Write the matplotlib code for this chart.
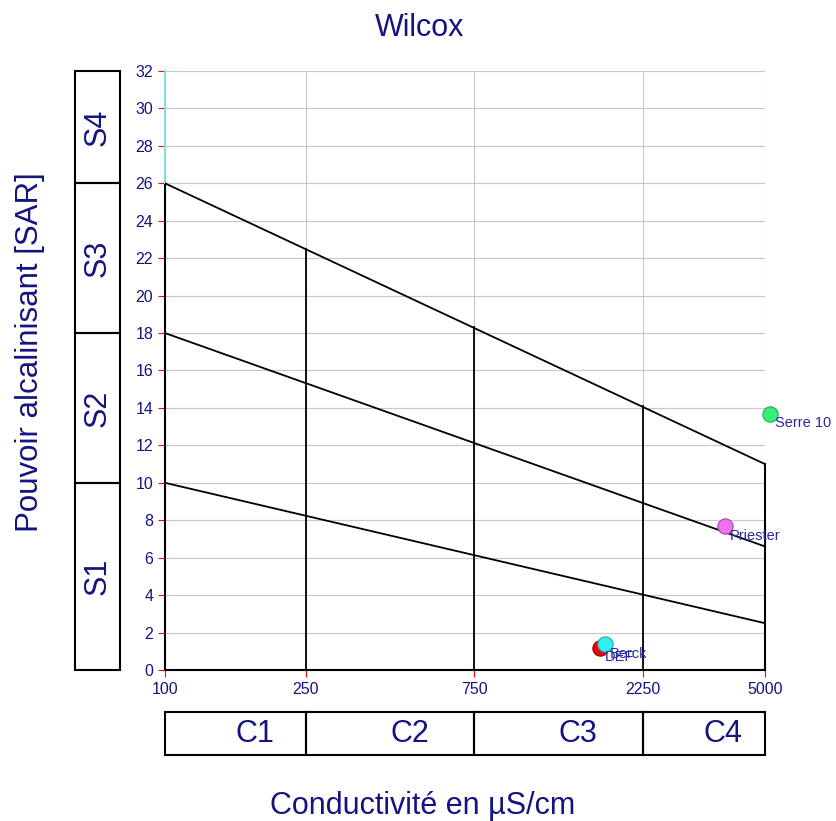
import matplotlib.pyplot as plt
from matplotlib.patches import Rectangle
from matplotlib.ticker import FixedLocator, NullLocator

plt.rcParams['font.family'] = ['Liberation Sans', 'DejaVu Sans']

# class limits
cond_ticks = [100, 250, 750, 2250, 5000]
cond_classes = ['C1', 'C2', 'C3', 'C4']
sar_classes = ['S1', 'S2', 'S3', 'S4']
sar_bounds = [0, 10, 18, 26, 32]

# boundary lines (SAR at 100 and 5000 uS/cm)
line_left = [10, 18, 26]
line_right = [2.5, 6.6, 11.0]
# vertical separators: height reached at 250, 750, 2250
vert_tops = [22.5, 18.3, 14.1]

# samples
names = ['DEF', 'Berck', 'Priester', 'Serre 10']
cond = [1700, 1760, 3850, 5150]
sar = [1.2, 1.4, 7.7, 13.7]
colors = ['#ee0000', '#33eeee', '#f070f0', '#33ee77']
edges = ['#990000', '#22aaaa', '#aa44aa', '#22aa55']

navy = '#141480'

fig = plt.figure(figsize=(8.37, 8.21), dpi=100)
ax = fig.add_axes([165 / 837, 1 - 670 / 821, 600 / 837, 599 / 821])
ax.set_xscale('log')
ax.set_xlim(100, 5000)
ax.set_ylim(0, 32)

ax.xaxis.set_major_locator(FixedLocator(cond_ticks))
ax.xaxis.set_minor_locator(NullLocator())
ax.set_xticklabels([str(c) for c in cond_ticks])
ax.set_yticks(range(0, 33, 2))
ax.tick_params(colors='red', labelcolor=navy, labelsize=11.5, length=5, width=0.8)
ax.grid(True, color='#c8c8c8', linewidth=0.8)
ax.set_axisbelow(True)
for s in ['top', 'right', 'left']:
    ax.spines[s].set_visible(False)
ax.spines['bottom'].set_linewidth(1.5)
ax.plot([100, 100], [0, 26], color='black', lw=1.5, clip_on=False)
ax.plot([100, 100], [26, 32], color='#7fdede', lw=1.5, clip_on=False)

for a, b in zip(line_left, line_right):
    ax.plot([100, 5000], [a, b], color='black', lw=1.3)
for x, t in zip(cond_ticks[1:4], vert_tops):
    ax.plot([x, x], [0, t], color='black', lw=1.3)
ax.plot([5000, 5000], [0, line_right[-1]], color='black', lw=1.5, clip_on=False)

for n, x, y, c, e in zip(names, cond, sar, colors, edges):
    ax.plot(x, y, 'o', ms=11, color=c, mec=e, mew=0.8, clip_on=False, zorder=5)
    ax.text(x * 1.035, y - 0.15, n, color='#2a2aa0', fontsize=10.5, va='top', ha='left', zorder=6)

fig.text(420 / 837, 1 - 28 / 821, 'Wilcox', ha='center', va='center', color=navy, fontsize=22)

# S boxes on the left
sax = fig.add_axes([75 / 837, 1 - 670 / 821, 45 / 837, 599 / 821])
sax.set_xlim(0, 1)
sax.set_ylim(0, 32)
sax.axis('off')
for i, lab in enumerate(sar_classes):
    lo, hi = sar_bounds[i], sar_bounds[i + 1]
    sax.add_patch(Rectangle((0, lo), 1, hi - lo, fill=False, ec='black', lw=1.5, clip_on=False))
    sax.text(0.5, (lo + hi) / 2, lab, rotation=90, ha='center', va='center', color=navy, fontsize=22)

# C boxes at the bottom
cax = fig.add_axes([165 / 837, 1 - 755 / 821, 600 / 837, 43 / 821])
cax.set_xscale('log')
cax.set_xlim(100, 5000)
cax.set_ylim(0, 1)
cax.axis('off')
label_x = [180, 494, 1476, 3800]
for i, lab in enumerate(cond_classes):
    lo, hi = cond_ticks[i], cond_ticks[i + 1]
    cax.add_patch(Rectangle((lo, 0), hi - lo, 1, fill=False, ec='black', lw=1.5, clip_on=False))
    cax.text(label_x[i], 0.5, lab, ha='center', va='center', color=navy, fontsize=22)

fig.text(30 / 837, 1 - 352 / 821, 'Pouvoir alcalinisant [SAR]', rotation=90, ha='center', va='center',
         color=navy, fontsize=22.5)
fig.text(423 / 837, 1 - 806 / 821, 'Conductivité en µS/cm', ha='center', va='center', color=navy, fontsize=22)

fig.savefig('out.png', dpi=100)
